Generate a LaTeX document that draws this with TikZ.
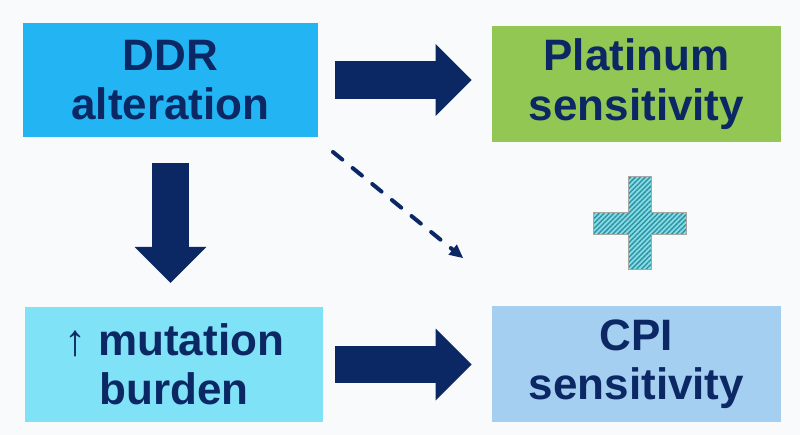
\documentclass[tikz,border=0pt]{standalone}
\usepackage{fontspec}
\setmainfont{Liberation Sans}
\usetikzlibrary{arrows.meta, patterns.meta}

\definecolor{ddrblue}{RGB}{35,181,243}
\definecolor{platgreen}{RGB}{146,199,84}
\definecolor{mutcyan}{RGB}{127,226,246}
\definecolor{cpiblue}{RGB}{164,207,240}
\definecolor{navy}{RGB}{11,40,100}
\definecolor{pluscyan}{RGB}{140,218,228}
\definecolor{plusteal}{RGB}{40,150,165}
\definecolor{bgwhite}{RGB}{248,250,252}

\begin{document}
\begin{tikzpicture}[x=0.75pt, y=-0.75pt,
  box/.style={inner sep=0pt, align=center, text=navy,
    font=\bfseries\fontsize{33}{37}\selectfont},
  blockarrow/.style={draw=navy, line width=28pt,
    -{Triangle[length=27pt, width=54pt, line width=0pt]}},
  dasharrow/.style={draw=navy, line width=3pt, line cap=round,
    dash pattern=on 9pt off 10pt,
    -{Triangle[length=10pt, width=10pt, line width=0pt]}}]
\fill[bgwhite] (0,0) rectangle (800,435);
\useasboundingbox (0,0) rectangle (800,435);

\node[box, fill=ddrblue, minimum width=221pt, minimum height=85.5pt] (ddr) at (170.5,80) {DDR\\alteration};
\node[box, fill=platgreen, minimum width=217pt, minimum height=87pt] (plat) at (636.5,84) {Platinum\\sensitivity};
\node[box, fill=mutcyan, minimum width=223.5pt, minimum height=86pt] (mut) at (174,364.5) {{\mdseries↑} mutation\\burden};
\node[box, fill=cpiblue, minimum width=217pt, minimum height=87pt] (cpi) at (636.5,364) {CPI\\sensitivity};

\draw[blockarrow, shorten <=12.75pt, shorten >=15pt] (ddr.east) -- (ddr.east -| plat.west);
\draw[blockarrow, shorten <=9pt, shorten >=15pt] (mut.east) -- (mut.east -| cpi.west);
\draw[blockarrow, shorten <=19.5pt, shorten >=18pt] (ddr.south) -- (ddr.south |- mut.north);

\coordinate (dashfrom) at (333,152);
\coordinate (dashto) at (463,258);
\draw[dasharrow] (dashfrom) -- (dashto);

\fill[preaction={fill=pluscyan}, pattern={Lines[angle=45, distance=2.6pt, line width=1.1pt]}, pattern color=plusteal]
  (628,176) -- (651,176) -- (651,212) -- (686,212) -- (686,234) -- (651,234) -- (651,269)
  -- (628,269) -- (628,234) -- (593,234) -- (593,212) -- (628,212) -- cycle;
\draw[gray!70, line width=0.6pt]
  (628,176) -- (651,176) -- (651,212) -- (686,212) -- (686,234) -- (651,234) -- (651,269)
  -- (628,269) -- (628,234) -- (593,234) -- (593,212) -- (628,212) -- cycle;
\end{tikzpicture}
\end{document}
